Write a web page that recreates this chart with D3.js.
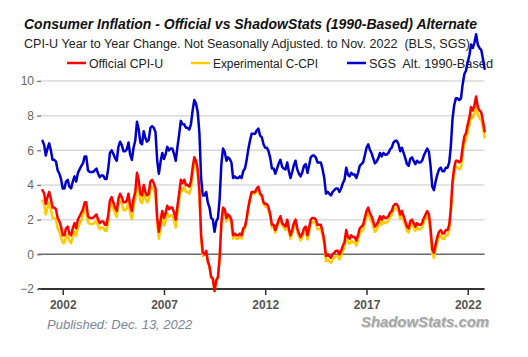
<!DOCTYPE html>
<html><head><meta charset="utf-8">
<script src="https://cdn.jsdelivr.net/npm/d3@7"></script>
<style>
body{margin:0;background:#fff}
svg{display:block;font-family:"Liberation Sans",Arial,sans-serif}
</style>
</head><body>
<svg id="c" width="528" height="357"></svg>
<script>
// Monthly year-over-year % change, Jan 2001 .. Nov 2022
const startYear = 2001;
const cpiU = [
 3.7,3.5,2.9,3.3,3.6,3.2,2.7,2.7,2.6,2.1,1.9,1.6,
 1.1,1.1,1.5,1.6,1.2,1.1,1.5,1.8,1.5,2.0,2.2,2.4,
 2.6,3.0,3.0,2.2,2.1,2.1,2.1,2.2,2.3,2.0,1.8,1.9,
 1.9,1.7,1.7,2.3,3.1,3.3,3.0,2.7,2.5,3.2,3.5,3.3,
 3.0,3.0,3.1,3.5,2.8,2.5,3.2,3.6,4.7,4.3,3.5,3.4,
 4.0,3.6,3.4,3.5,4.2,4.3,4.1,3.8,2.1,1.3,2.0,2.5,
 2.1,2.4,2.8,2.6,2.7,2.7,2.4,2.0,2.8,3.5,4.3,4.1,
 4.3,4.0,4.0,3.9,4.2,5.0,5.6,5.4,4.9,3.7,1.1,0.1,
 0.0,0.2,-0.4,-0.7,-1.3,-1.4,-2.1,-1.5,-1.3,-0.2,1.8,2.7,
 2.6,2.1,2.3,2.2,2.0,1.1,1.2,1.1,1.1,1.2,1.1,1.5,
 1.6,2.1,2.7,3.2,3.6,3.6,3.6,3.8,3.9,3.5,3.4,3.0,
 2.9,2.9,2.7,2.3,1.7,1.7,1.4,1.7,2.0,2.2,1.8,1.7,
 1.6,2.0,1.5,1.1,1.4,1.8,2.0,1.5,1.2,1.0,1.2,1.5,
 1.6,1.1,1.5,2.0,2.1,2.1,2.0,1.7,1.7,1.7,1.3,0.8,
 -0.1,0.0,-0.1,-0.2,0.0,0.1,0.2,0.2,0.0,0.2,0.5,0.7,
 1.4,1.0,0.9,1.1,1.0,1.0,0.8,1.1,1.5,1.6,1.7,2.1,
 2.5,2.7,2.4,2.2,1.9,1.6,1.7,1.9,2.2,2.0,2.2,2.1,
 2.1,2.2,2.4,2.5,2.8,2.9,2.9,2.7,2.3,2.5,2.2,1.9,
 1.6,1.5,1.9,2.0,1.8,1.6,1.8,1.7,1.7,1.8,2.1,2.3,
 2.5,2.3,1.5,0.3,0.1,0.6,1.0,1.3,1.4,1.2,1.2,1.4,
 1.4,1.7,2.6,4.2,5.0,5.4,5.4,5.3,5.4,6.2,6.8,7.0,
 7.5,7.9,8.5,8.3,8.6,9.1,8.5,8.3,8.2,7.7,7.1
];
const cCpi = [
 3.1,2.9,2.3,2.7,3.0,2.6,2.1,2.1,2.0,1.5,1.3,1.0,
 0.65,0.65,1.05,1.15,0.75,0.65,1.05,1.35,1.05,1.55,1.75,1.95,
 2.25,2.65,2.65,1.85,1.75,1.75,1.75,1.85,1.95,1.65,1.45,1.55,
 1.55,1.35,1.35,1.95,2.75,2.95,2.65,2.35,2.15,2.85,3.15,2.95,
 2.55,2.55,2.65,3.05,2.35,2.05,2.75,3.15,4.25,3.85,3.05,2.95,
 3.6,3.2,3.0,3.1,3.8,3.9,3.7,3.4,1.7,0.9,1.6,2.1,
 1.65,1.95,2.35,2.15,2.25,2.25,1.95,1.55,2.35,3.05,3.85,3.65,
 3.9,3.6,3.6,3.5,3.8,4.6,5.25,5.05,4.55,3.4,0.85,-0.1,
 -0.05,0.15,-0.45,-0.75,-1.35,-1.45,-2.15,-1.55,-1.35,-0.25,1.75,2.6,
 2.4,1.9,2.1,2.0,1.8,0.9,1.0,0.9,0.9,1.0,0.9,1.3,
 1.5,2.0,2.6,3.1,3.5,3.5,3.5,3.7,3.8,3.4,3.3,2.9,
 2.75,2.75,2.55,2.15,1.55,1.55,1.25,1.55,1.85,2.05,1.65,1.55,
 1.4,1.8,1.3,0.9,1.2,1.6,1.8,1.3,1.0,0.8,1.0,1.3,
 1.35,0.85,1.25,1.75,1.85,1.85,1.75,1.45,1.45,1.45,1.05,0.55,
 -0.4,-0.3,-0.4,-0.5,-0.3,-0.2,-0.1,-0.1,-0.3,-0.1,0.2,0.4,
 1.1,0.7,0.6,0.8,0.7,0.7,0.5,0.8,1.2,1.3,1.4,1.8,
 2.2,2.4,2.1,1.9,1.6,1.3,1.4,1.6,1.9,1.7,1.9,1.8,
 1.85,1.95,2.15,2.25,2.55,2.65,2.65,2.45,2.05,2.25,1.95,1.65,
 1.35,1.25,1.65,1.75,1.55,1.35,1.55,1.45,1.45,1.55,1.85,2.05,
 2.2,2.0,1.2,0.0,-0.2,0.3,0.7,1.0,1.1,0.9,0.9,1.1,
 1.1,1.4,2.3,3.9,4.7,5.1,5.0,4.9,5.0,5.8,6.4,6.6,
 7.05,7.45,8.05,7.85,8.15,8.6,8.05,7.85,7.75,7.3,6.75
];
const sgs = [
 6.55,6.3,5.7,6.1,6.4,6.0,5.45,5.45,5.35,4.85,4.65,4.35,
 3.8,3.8,4.2,4.3,3.9,3.8,4.2,4.5,4.2,4.7,4.9,5.1,
 5.25,5.65,5.65,4.85,4.75,4.75,4.75,4.85,4.95,4.65,4.45,4.55,
 4.55,4.35,4.35,4.95,5.85,6.0,5.8,5.55,5.4,6.2,6.5,6.3,
 5.95,5.95,6.05,6.45,5.75,5.45,6.15,6.55,7.65,7.25,6.45,6.35,
 7.1,6.7,6.5,6.6,7.3,7.4,7.3,7.05,5.4,4.65,5.35,5.85,
 5.5,5.8,6.2,6.0,6.1,6.1,5.8,5.4,6.2,6.9,7.7,7.5,
 7.5,7.3,7.3,7.2,7.5,8.3,8.9,8.7,8.2,7.0,4.4,3.4,
 3.4,3.6,3.0,2.7,2.1,2.0,1.3,1.9,2.1,3.2,5.2,6.1,
 5.9,5.4,5.6,5.5,5.3,4.4,4.5,4.4,4.4,4.5,4.4,4.8,
 4.95,5.45,6.05,6.55,6.95,6.95,6.95,7.15,7.25,6.85,6.75,6.35,
 6.15,6.15,5.95,5.55,4.95,4.95,4.65,4.95,5.25,5.45,5.05,4.95,
 4.9,5.3,4.8,4.4,4.75,5.15,5.4,4.9,4.65,4.5,4.75,5.1,
 5.2,4.7,5.1,5.6,5.7,5.7,5.6,5.3,5.3,5.3,4.9,4.4,
 3.5,3.6,3.5,3.4,3.6,3.7,3.8,3.8,3.6,3.8,4.1,4.3,
 5.0,4.6,4.5,4.7,4.6,4.6,4.4,4.7,5.1,5.2,5.3,5.7,
 6.15,6.35,6.05,5.85,5.55,5.25,5.35,5.55,5.85,5.65,5.85,5.75,
 5.75,5.85,6.05,6.15,6.45,6.55,6.55,6.35,5.95,6.15,5.85,5.55,
 5.2,5.1,5.5,5.6,5.4,5.2,5.4,5.3,5.3,5.4,5.7,5.9,
 6.1,5.9,5.1,3.9,3.7,4.2,4.6,4.9,5.0,4.8,4.8,5.0,
 5.0,5.3,6.2,7.8,8.6,9.0,9.0,8.9,9.0,9.8,10.4,10.6,
 11.1,11.5,12.1,11.9,12.2,12.7,12.1,11.9,11.8,11.3,10.7
];
const yTicks = [-2, 0, 2, 4, 6, 8, 10];
const xTickYears = [2002, 2007, 2012, 2017, 2022];
const seriesNames = ["Official CPI-U", "Experimental C-CPI", "SGS  Alt. 1990-Based"];
const seriesColors = ["#ff0000", "#ffcc00", "#0000cc"];
const titleText = "Consumer Inflation - Official vs ShadowStats (1990-Based) Alternate";
const subtitleText = "CPI-U Year to Year Change. Not Seasonally Adjusted. to Nov. 2022  (BLS, SGS)";
const publishedText = "Published: Dec. 13, 2022";
const brandText = "ShadowStats.com";

const svg = d3.select("#c");
const dates = cpiU.map((_, i) => new Date(startYear, i, 1));

const x = d3.scaleTime().domain([dates[0], dates[dates.length - 1]]).range([42.5, 484.6]);
const y = d3.scaleLinear().domain([-2, 10]).range([289, 81]);

// titles
svg.append("text").attr("x", 24).attr("y", 29)
  .attr("font-size", 14).attr("font-weight", "bold").attr("font-style", "italic")
  .attr("fill", "#111").attr("textLength", 453).attr("lengthAdjust", "spacingAndGlyphs")
  .text(titleText);
svg.append("text").attr("x", 24).attr("y", 48)
  .attr("font-size", 12.5).attr("fill", "#222").attr("textLength", 446)
  .attr("lengthAdjust", "spacingAndGlyphs").style("white-space", "pre")
  .text(subtitleText);

// legend
const legX = [[67, 89, 74], [191, 213, 105], [347, 369, 124]];
seriesNames.forEach((n, i) => {
  svg.append("line").attr("x1", legX[i][0]).attr("x2", legX[i][0] + 19)
    .attr("y1", 63).attr("y2", 63).attr("stroke", seriesColors[i]).attr("stroke-width", 2.5);
  svg.append("text").attr("x", legX[i][1]).attr("y", 68).attr("font-size", 12)
    .attr("fill", "#222").attr("textLength", legX[i][2]).attr("lengthAdjust", "spacingAndGlyphs")
    .style("white-space", "pre").text(n);
});

// gridlines
yTicks.forEach(v => {
  let col = "#dadada", w = 1.5;
  if (v === 0) { col = "#6a6a6a"; w = 1.5; }
  if (v === -2) { col = "#333"; w = 2; }
  svg.append("line").attr("x1", 38).attr("x2", 484.6)
    .attr("y1", y(v)).attr("y2", y(v)).attr("stroke", col).attr("stroke-width", w);
});

// y axis
const ya = svg.append("g").attr("transform", "translate(41,0)")
  .call(d3.axisLeft(y).tickValues(yTicks).tickSize(4).tickPadding(3).tickFormat(d3.format("d")));
ya.select(".domain").remove();
ya.selectAll(".tick line").attr("stroke", "#777").attr("stroke-width", 1.2);
ya.selectAll(".tick text").attr("font-size", 12).attr("fill", "#666")
  .attr("font-family", "Liberation Sans, Arial, sans-serif");

// x axis
const xa = svg.append("g").attr("transform", "translate(0,289)")
  .call(d3.axisBottom(x).tickValues(xTickYears.map(yr => new Date(yr, 0, 1)))
    .tickSize(6).tickPadding(5).tickFormat(d3.timeFormat("%Y")));
xa.select(".domain").remove();
xa.selectAll(".tick line").attr("stroke", "#333").attr("stroke-width", 1.5);
xa.selectAll(".tick text").attr("font-size", 12).attr("font-weight", "bold").attr("fill", "#555")
  .attr("font-family", "Liberation Sans, Arial, sans-serif");

// lines
const line = d3.line().x((d, i) => x(dates[i])).y(d => y(d));
[[cCpi, 1], [cpiU, 0], [sgs, 2]].forEach(([arr, ci]) => {
  svg.append("path").datum(arr).attr("d", line).attr("fill", "none")
    .attr("stroke", seriesColors[ci]).attr("stroke-width", 2.5)
    .attr("stroke-linejoin", "round").attr("stroke-linecap", "round");
});

// footer
svg.append("text").attr("x", 47).attr("y", 329).attr("font-size", 13).attr("font-style", "italic")
  .attr("fill", "#7a8699").text(publishedText);
svg.append("text").attr("x", 361).attr("y", 327).attr("font-size", 15.5)
  .attr("font-weight", "bold").attr("font-style", "italic").attr("fill", "#a6a6a6")
  .attr("textLength", 128).attr("lengthAdjust", "spacingAndGlyphs")
  .style("text-shadow", "1px 1px 0 #d8d8d8").text(brandText);
</script>
</body></html>
